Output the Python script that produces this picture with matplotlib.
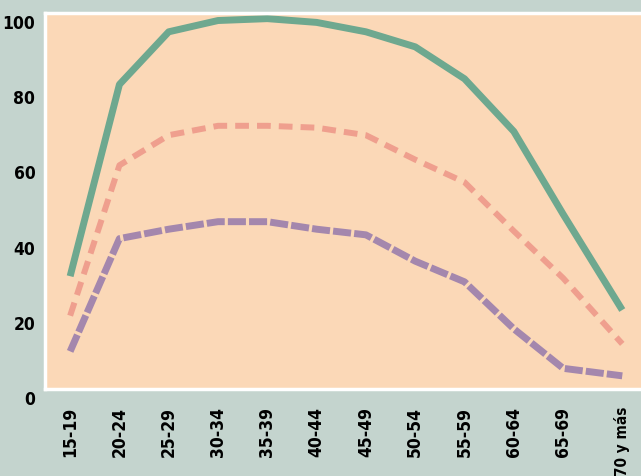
import numpy as np
import matplotlib.pyplot as plt
import matplotlib.font_manager as fm
from matplotlib.transforms import ScaledTranslation

# age groups and the three curves
age_groups = ["15-19", "20-24", "25-29", "30-34", "35-39", "40-44",
              "45-49", "50-54", "55-59", "60-64", "65-69", "70 y más"]
green_vals = [30, 81, 95, 98, 98.5, 97.5, 95, 91, 82.5, 68.5, 46.5, 21]
red_vals = [19.5, 59.5, 67.5, 70, 70, 69.5, 67.5, 61, 55, 42, 29.5, 12]
purple_vals = [10, 40, 42.5, 44.5, 44.5, 42.5, 41, 34, 28.5, 16, 5.5, 3.5]
y_ticks = [0, 20, 40, 60, 80, 100]


# the original uses a narrow bold face; look for one that is installed
def is_bold(f):
    w = f.weight
    if isinstance(w, str):
        return w in ("bold", "semibold", "demibold", "heavy", "extra bold")
    return w >= 600


def find_narrow_bold():
    prefs = ["Liberation Sans Narrow", "DejaVu Sans", "Noto Sans", "Roboto Condensed",
             "Roboto", "Open Sans", "Lato", "Inter"]
    for name in prefs:
        for f in fm.fontManager.ttflist:
            narrow = ("Narrow" in f.name or "Condensed" in f.name
                      or "condensed" in str(f.stretch))
            if f.name == name and narrow and is_bold(f) and f.style == "normal":
                return f.fname
    return None


fpath = find_narrow_bold()
if fpath:
    tick_font = fm.FontProperties(fname=fpath, size=12.5)
else:
    tick_font = fm.FontProperties(family="DejaVu Sans", weight="bold", size=11)

bg = "#c4d4ce"
fig = plt.figure(figsize=(6.41, 4.77), dpi=100, facecolor=bg)
ax = fig.add_axes([45 / 641, 1 - 390 / 477, 1 - 45 / 641, (390 - 14) / 477])
ax.set_facecolor("#fbd8b7")

x = np.arange(len(age_groups), dtype=float)
x[-1] += 0.2  # last group sits a bit further right

ax.plot(x, green_vals, color="#6ea88f", lw=5, solid_capstyle="butt",
        solid_joinstyle="round")
ax.plot(x, red_vals, color="#ef9f8e", lw=4.3, dashes=(2.3, 1.35),
        dash_capstyle="butt")
ax.plot(x, purple_vals, color="#a487ad", lw=5, dashes=(2.6, 0.45),
        dash_capstyle="butt")

ax.set_xlim(-0.51, 11.58)
ax.set_ylim(0, 100)
ax.set_yticks(y_ticks)
ax.set_xticks(x)
ax.set_xticklabels(age_groups, rotation=90, fontproperties=tick_font)
ax.set_yticklabels([str(t) for t in y_ticks], fontproperties=tick_font)
ax.tick_params(axis="both", length=0)
ax.tick_params(axis="x", pad=12)
ax.tick_params(axis="y", pad=7)

# the long last label is a touch smaller so it stays inside the picture
ax.get_xticklabels()[-1].set_fontsize(11)

# labels on the y axis sit a little below their level
offset = ScaledTranslation(0, -8 / 100, fig.dpi_scale_trans)
for lab in ax.get_yticklabels():
    lab.set_transform(lab.get_transform() + offset)

for side in ["left", "bottom", "top"]:
    ax.spines[side].set_color("white")
    ax.spines[side].set_linewidth(2.5)
ax.spines["right"].set_visible(False)

fig.savefig("out.png", dpi=100, facecolor=bg)
